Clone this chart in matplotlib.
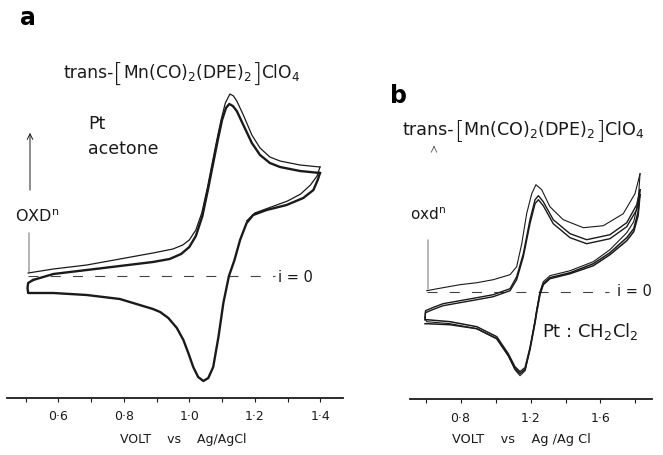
import matplotlib
matplotlib.use('Agg')
import matplotlib.pyplot as plt

W, H = 663, 455
INK = '#1a1a1a'

# ---- panel a : Pt / acetone, scan 0.5 -> 1.4 V ----
va_fwd1 = [0.508, 0.585, 0.687, 0.788, 0.889, 0.950, 0.980, 1.000, 1.020, 1.038,
           1.055, 1.070, 1.084, 1.097, 1.110, 1.124, 1.135, 1.145, 1.165, 1.191,
           1.216, 1.246, 1.277, 1.338, 1.399]
ia_fwd1 = [0.3, 0.7, 1.1, 1.7, 2.3, 2.7, 3.1, 3.6, 4.6, 6.3,
           8.8, 11.3, 13.6, 15.6, 17.3, 18.2, 18.0, 17.5, 16.1, 14.1,
           12.8, 11.9, 11.5, 11.1, 10.9]

va_fwd2 = [0.523, 0.585, 0.687, 0.788, 0.889, 0.940, 0.975, 1.000, 1.020, 1.040,
           1.058, 1.073, 1.087, 1.100, 1.112, 1.122, 1.133, 1.145, 1.165, 1.191,
           1.216, 1.246, 1.277, 1.338, 1.399]
ia_fwd2 = [-0.4, 0.2, 0.6, 1.0, 1.4, 1.7, 2.2, 2.9, 4.0, 6.0,
           8.8, 11.3, 13.6, 15.6, 16.8, 17.2, 17.0, 16.5, 15.1, 13.3,
           12.1, 11.3, 10.9, 10.5, 10.3]

va_rev = [1.399, 1.392, 1.379, 1.348, 1.297, 1.236, 1.195, 1.175, 1.155, 1.138,
          1.121, 1.104, 1.089, 1.073, 1.058, 1.043, 1.027, 1.012, 0.997, 0.982,
          0.962, 0.936, 0.911, 0.889, 0.788, 0.687, 0.585, 0.508, 0.506, 0.508, 0.523]
ia_rev = [10.3, 9.6, 8.6, 7.8, 7.1, 6.6, 6.1, 5.3, 3.6, 1.6,
          0.0, -2.7, -6.1, -9.1, -10.2, -10.5, -10.1, -9.1, -7.7, -6.4,
          -5.2, -4.2, -3.6, -3.3, -2.3, -1.9, -1.7, -1.7, -1.2, -0.7, -0.4]

va_rev1 = [1.399, 1.390, 1.370, 1.340, 1.300, 1.250, 1.200, 1.175]
ia_rev1 = [10.9, 10.0, 9.1, 8.2, 7.5, 6.9, 6.3, 5.5]

# ---- panel b : Pt / CH2Cl2, scan 0.6 -> 1.83 V ----
vb_fwd1 = [0.607, 0.700, 0.797, 0.893, 0.987, 1.083, 1.121, 1.150, 1.178, 1.207,
           1.231, 1.264, 1.311, 1.387, 1.502, 1.616, 1.730, 1.797, 1.826]
ib_fwd1 = [0.1, 0.4, 0.7, 0.9, 1.2, 1.7, 2.5, 4.8, 7.8, 9.8,
           10.7, 10.2, 8.5, 7.2, 6.4, 6.6, 7.8, 9.8, 11.8]

vb_fwd = [0.597, 0.600, 0.640, 0.700, 0.797, 0.893, 0.987, 1.083, 1.121, 1.159,
          1.197, 1.226, 1.245, 1.273, 1.330, 1.426, 1.521, 1.654, 1.750, 1.807, 1.826]
ib_fwd2 = [-2.6, -1.9, -1.6, -1.2, -0.9, -0.6, -0.3, 0.3, 1.5, 3.8,
           7.2, 9.2, 9.6, 9.0, 7.2, 5.8, 5.2, 5.7, 6.9, 8.7, 10.2]
ib_fwd3 = [-2.8, -2.1, -1.8, -1.4, -1.1, -0.8, -0.5, 0.1, 1.2, 3.5,
           6.8, 8.8, 9.2, 8.6, 6.8, 5.4, 4.8, 5.3, 6.5, 8.2, 9.7]

vb_rev = [1.826, 1.815, 1.790, 1.750, 1.654, 1.559, 1.426, 1.311, 1.273, 1.254,
          1.235, 1.226, 1.197, 1.169, 1.140, 1.111, 1.073, 1.007, 0.893, 0.740,
          0.607, 0.597]
ib_rev1 = [11.8, 9.0, 7.0, 5.9, 4.2, 3.0, 2.1, 1.6, 1.0, 0.0,
           -1.8, -2.8, -5.7, -7.9, -8.4, -7.8, -6.4, -4.7, -3.7, -3.2, -3.0, -2.6]
ib_rev2 = [10.2, 8.0, 6.3, 5.4, 3.9, 2.8, 1.9, 1.4, 0.8, -0.2,
           -2.0, -3.0, -5.6, -7.6, -8.0, -7.5, -6.2, -4.5, -3.5, -3.0, -2.8, -2.8]
ib_rev3 = [9.7, 7.6, 6.0, 5.1, 3.7, 2.6, 1.8, 1.3, 0.7, -0.3,
           -2.1, -3.1, -5.8, -7.8, -8.2, -7.7, -6.4, -4.7, -3.7, -3.3, -3.2, -3.2]

ticks_a = [0.5, 0.6, 0.7, 0.8, 0.9, 1.0, 1.1, 1.2, 1.3, 1.4]
labels_a = ['', '0·6', '', '0·8', '', '1·0', '', '1·2', '', '1·4']
ticks_b = [0.6, 0.8, 1.0, 1.2, 1.4, 1.6, 1.8]
labels_b = ['', '0·8', '', '1·2', '', '1·6', '']

title_parts = ['trans-', '[', r'Mn(CO)$_2$(DPE)$_2$', ']', r'ClO$_4$']

fig = plt.figure(figsize=(W / 100, H / 100), dpi=100)
renderer = fig.canvas.get_renderer()


def add_axes_px(left, right, top, bottom):
    return fig.add_axes([left / W, 1 - bottom / H, (right - left) / W, (bottom - top) / H])


def P(px, py):
    return px / W, 1 - py / H


def style(ax, ticks, labels):
    for s in ('left', 'top', 'right'):
        ax.spines[s].set_visible(False)
    ax.spines['bottom'].set_linewidth(1.3)
    ax.spines['bottom'].set_color(INK)
    ax.set_yticks([])
    ax.set_xticks(ticks)
    ax.set_xticklabels(labels)
    ax.tick_params(axis='x', direction='out', length=3, width=0.8, pad=6,
                   labelsize=9, colors=INK)
    ax.patch.set_visible(False)


def chain_title(x0, baseline, size, bsize):
    # pieces written left to right, brackets set larger and drawn light
    x = x0
    for part in title_parts:
        big = part in ('[', ']')
        t = fig.text(*P(x, baseline + (4 if big else 0)), part,
                     fontsize=bsize if big else size, ha='left', va='baseline',
                     color=INK, fontweight='light' if big else 'normal')
        bb = t.get_window_extent(renderer)
        x = bb.x1 + (-1 if big else 0)


# panel a
ax = add_axes_px(7, 343, 40, 398)
ax.set_xlim(0.4434, 1.4693)
ax.set_ylim(-12.2, 23.6)
style(ax, ticks_a, labels_a)
ax.hlines(0, va_fwd1[0], 1.262, colors='#444', lw=0.8, linestyles=(0, (9, 11)))
ax.plot(va_fwd1, ia_fwd1, color=INK, lw=0.9)
ax.plot(va_rev1, ia_rev1, color=INK, lw=0.9)
ax.plot(va_fwd2, ia_fwd2, color=INK, lw=1.7)
ax.plot(va_rev, ia_rev, color=INK, lw=1.7)

# panel b
bx = add_axes_px(410, 652, 140, 399)
bx.set_xlim(0.5114, 1.8943)
bx.set_ylim(-10.73, 15.17)
style(bx, ticks_b, labels_b)
bx.hlines(0, vb_fwd1[0], 1.65, colors='#444', lw=0.8, linestyles=(0, (9, 11)))
bx.plot(vb_fwd1, ib_fwd1, color=INK, lw=0.8)
bx.plot(vb_fwd, ib_fwd2, color=INK, lw=1.0)
bx.plot(vb_fwd, ib_fwd3, color=INK, lw=1.0)
bx.plot(vb_rev, ib_rev1, color=INK, lw=0.8)
bx.plot(vb_rev, ib_rev2, color=INK, lw=1.1)
bx.plot(vb_rev, ib_rev3, color=INK, lw=1.1)

# annotations, panel a
fig.text(*P(28, 18), 'a', fontsize=17, fontweight='bold', ha='center', va='center', color='black')
chain_title(63, 78, 12.3, 19)
fig.text(*P(88, 124), 'Pt', fontsize=12.5, ha='left', va='center', color=INK)
fig.text(*P(88, 149), 'acetone', fontsize=12.5, ha='left', va='center', color=INK)
fig.text(*P(15, 217), r'OXD$^{\mathrm{n}}$', fontsize=11.5, ha='left', va='center', color=INK)
fig.text(*P(278, 277), 'i = 0', fontsize=10.5, ha='left', va='center', color=INK)
ax.annotate('', xy=(30, H - 130), xytext=(30, H - 193), xycoords='figure pixels',
            arrowprops=dict(arrowstyle='->', lw=0.7, color=INK))
ax.annotate('', xy=(29, H - 230), xytext=(29, H - 276), xycoords='figure pixels',
            arrowprops=dict(arrowstyle='-', lw=0.6, color='#555'))
fig.text(*P(183, 440), 'VOLT    vs    Ag/AgCl', fontsize=9, ha='center', va='center', color=INK)

# annotations, panel b
fig.text(*P(398, 96), 'b', fontsize=17, fontweight='bold', ha='center', va='center', color='black')
chain_title(403, 135, 12.6, 18)
fig.text(*P(410, 215), r'oxd$^{\mathrm{n}}$', fontsize=11, ha='left', va='center', color=INK)
bx.annotate('', xy=(428, H - 237), xytext=(428, H - 292), xycoords='figure pixels',
            arrowprops=dict(arrowstyle='-', lw=0.6, color='#555'))
bx.annotate('', xy=(434, H - 143), xytext=(434, H - 150), xycoords='figure pixels',
            arrowprops=dict(arrowstyle='->', lw=0.6, color='#555'))
fig.text(*P(617, 292), 'i = 0', fontsize=10.5, ha='left', va='center', color=INK)
fig.text(*P(542, 332), r'Pt : CH$_2$Cl$_2$', fontsize=13, ha='left', va='center', color=INK)
fig.text(*P(521, 439), 'VOLT    vs    Ag /Ag Cl', fontsize=9.3, ha='center', va='center', color=INK)

fig.savefig('out.png', dpi=100, facecolor='white')
